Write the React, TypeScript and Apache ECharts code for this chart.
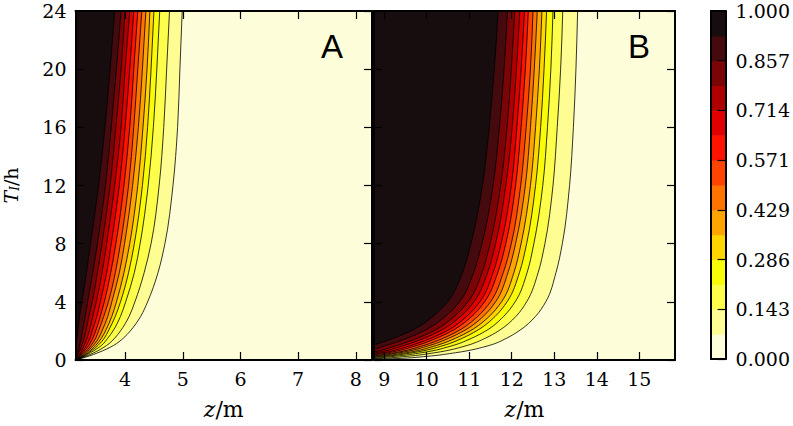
import React, { useEffect, useRef } from "react";
import * as echarts from "echarts";

const SERIF = "DejaVu Serif";
const SANS = "Liberation Sans";

// contour levels (15 boundaries -> 14 bands)
const LEVELS = [0, 0.0714, 0.1429, 0.2143, 0.2857, 0.3571, 0.4286, 0.5, 0.5714, 0.6429, 0.7143, 0.7857, 0.8571, 0.9286, 1];
// band colours, lowest band first
const BAND_COLORS = ["#fdfdd9", "#fdfd94", "#fdfd4b", "#f8fc08", "#ffd500", "#ffa400", "#ff7400", "#ff4300", "#ff1300", "#e00000", "#af0000", "#7b0506", "#440a0d", "#170d0e"];
const CB_TICKS = [0, 0.1429, 0.2857, 0.4286, 0.5714, 0.7143, 0.8571, 1];
const CB_LABELS = ["0.000", "0.143", "0.286", "0.429", "0.571", "0.714", "0.857", "1.000"];

const Y_TICKS = [0, 4, 8, 12, 16, 20, 24];
const A_XTICKS = [4, 5, 6, 7, 8];
const B_XTICKS = [9, 10, 11, 12, 13, 14, 15];

// Panel A: z position (m) of each contour line (level 1/14 ... 13/14) at times T_A (h)
const T_A = [0, 0.25, 0.5, 1, 1.5, 2, 3, 4, 6, 8, 12, 16, 20, 24];
const A_L1 = [3.14, 3.36, 3.53, 3.8, 3.97, 4.09, 4.27, 4.39, 4.57, 4.69, 4.83, 4.91, 4.95, 4.99];
const A_L2 = [3.14, 3.32, 3.46, 3.68, 3.82, 3.92, 4.07, 4.17, 4.33, 4.45, 4.59, 4.67, 4.72, 4.77];
const A_L3 = [3.14, 3.29, 3.4, 3.59, 3.7, 3.79, 3.92, 4.01, 4.16, 4.26, 4.4, 4.49, 4.55, 4.6];
const A_L4 = [3.14, 3.27, 3.37, 3.53, 3.64, 3.71, 3.83, 3.92, 4.06, 4.16, 4.3, 4.39, 4.45, 4.5];
const A_L5 = [3.14, 3.26, 3.35, 3.49, 3.59, 3.66, 3.77, 3.85, 3.98, 4.08, 4.22, 4.31, 4.38, 4.43];
const A_L6 = [3.14, 3.24, 3.32, 3.45, 3.54, 3.6, 3.7, 3.77, 3.9, 3.99, 4.13, 4.23, 4.3, 4.36];
const A_L7 = [3.14, 3.23, 3.3, 3.41, 3.49, 3.54, 3.63, 3.71, 3.83, 3.92, 4.06, 4.15, 4.22, 4.29];
const A_L8 = [3.14, 3.21, 3.27, 3.37, 3.44, 3.49, 3.57, 3.64, 3.75, 3.84, 3.98, 4.08, 4.15, 4.22];
const A_L9 = [3.14, 3.2, 3.25, 3.33, 3.39, 3.43, 3.51, 3.57, 3.68, 3.76, 3.9, 4.0, 4.08, 4.15];
const A_L10 = [3.14, 3.19, 3.23, 3.29, 3.34, 3.38, 3.44, 3.5, 3.6, 3.68, 3.82, 3.93, 4.0, 4.08];
const A_L11 = [3.14, 3.17, 3.2, 3.25, 3.29, 3.32, 3.37, 3.43, 3.52, 3.6, 3.74, 3.84, 3.93, 4.0];
const A_L12 = [3.14, 3.16, 3.18, 3.21, 3.24, 3.26, 3.31, 3.35, 3.44, 3.52, 3.66, 3.76, 3.85, 3.93];
const A_L13 = [3.14, 3.14, 3.14, 3.15, 3.17, 3.18, 3.21, 3.25, 3.33, 3.4, 3.54, 3.65, 3.74, 3.82];
const A_LINES = [A_L1, A_L2, A_L3, A_L4, A_L5, A_L6, A_L7, A_L8, A_L9, A_L10, A_L11, A_L12, A_L13];

// Panel B
const T_B = [0, 0.1, 0.25, 0.5, 1, 1.5, 2, 3, 4, 6, 8, 12, 16, 20, 24];
const B_L1 = [8.3, 9.3, 10.0, 10.68, 11.47, 11.88, 12.17, 12.56, 12.8, 13.04, 13.19, 13.36, 13.45, 13.51, 13.55];
const B_L2 = [7.96, 8.86, 9.53, 10.19, 10.95, 11.38, 11.69, 12.1, 12.35, 12.62, 12.78, 12.97, 13.07, 13.15, 13.2];
const B_L3 = [7.74, 8.59, 9.23, 9.88, 10.62, 11.06, 11.39, 11.81, 12.08, 12.36, 12.52, 12.73, 12.84, 12.92, 12.97];
const B_L4 = [7.6, 8.4, 9.03, 9.67, 10.4, 10.84, 11.17, 11.61, 11.89, 12.18, 12.35, 12.56, 12.68, 12.76, 12.82];
const B_L5 = [7.49, 8.27, 8.88, 9.52, 10.23, 10.68, 11.02, 11.47, 11.76, 12.05, 12.22, 12.44, 12.56, 12.65, 12.71];
const B_L6 = [7.38, 8.13, 8.73, 9.36, 10.07, 10.52, 10.87, 11.33, 11.62, 11.91, 12.09, 12.32, 12.44, 12.53, 12.6];
const B_L7 = [7.29, 8.01, 8.6, 9.24, 9.93, 10.39, 10.74, 11.2, 11.5, 11.8, 11.99, 12.21, 12.34, 12.44, 12.5];
const B_L8 = [7.18, 7.87, 8.45, 9.08, 9.77, 10.23, 10.59, 11.06, 11.36, 11.67, 11.86, 12.09, 12.22, 12.32, 12.39];
const B_L9 = [7.09, 7.76, 8.33, 8.95, 9.63, 10.1, 10.47, 10.94, 11.25, 11.56, 11.75, 11.99, 12.12, 12.22, 12.3];
const B_L10 = [6.99, 7.62, 8.18, 8.8, 9.46, 9.94, 10.31, 10.8, 11.11, 11.43, 11.62, 11.86, 12.01, 12.11, 12.19];
const B_L11 = [6.88, 7.48, 8.03, 8.64, 9.3, 9.78, 10.16, 10.65, 10.97, 11.3, 11.49, 11.74, 11.89, 11.99, 12.07];
const B_L12 = [6.72, 7.28, 7.8, 8.41, 9.05, 9.54, 9.93, 10.44, 10.77, 11.1, 11.3, 11.56, 11.71, 11.82, 11.9];
const B_L13 = [6.5, 7.0, 7.5, 8.1, 8.72, 9.22, 9.63, 10.15, 10.49, 10.84, 11.04, 11.31, 11.47, 11.59, 11.68];
const B_LINES = [B_L1, B_L2, B_L3, B_L4, B_L5, B_L6, B_L7, B_L8, B_L9, B_L10, B_L11, B_L12, B_L13];

function monotoneSlopes(xs: number[], ys: number[]): number[] {
  const n = xs.length;
  const s: number[] = [];
  for (let i = 0; i < n - 1; i++) s.push((ys[i + 1] - ys[i]) / (xs[i + 1] - xs[i]));
  const m: number[] = new Array(n).fill(0);
  for (let i = 1; i < n - 1; i++) {
    const h0 = xs[i] - xs[i - 1];
    const h1 = xs[i + 1] - xs[i];
    const p = (s[i - 1] * h1 + s[i] * h0) / (h0 + h1);
    m[i] = (Math.sign(s[i - 1]) + Math.sign(s[i])) * Math.min(Math.abs(s[i - 1]), Math.abs(s[i]), 0.5 * Math.abs(p)) || 0;
  }
  m[0] = (3 * s[0] - m[1]) / 2;
  m[n - 1] = (3 * s[n - 2] - m[n - 2]) / 2;
  return m;
}

function contourSeries(T: number[], lines: number[][], idx: number) {
  return {
    type: "custom",
    xAxisIndex: idx,
    yAxisIndex: idx,
    clip: true,
    z: 2,
    silent: true,
    data: lines.map((_, i) => [i]),
    renderItem: (params: any, api: any) => {
      const k = params.dataIndex;
      const zs = lines[k];
      const m = monotoneSlopes(T, zs);
      const cs = params.coordSys;
      const P = (z: number, t: number) => api.coord([z, t]);
      const p0 = P(zs[0], T[0]);
      let d = `M${p0[0]} ${p0[1]}`;
      for (let i = 0; i < T.length - 1; i++) {
        const h = T[i + 1] - T[i];
        const c1 = P(zs[i] + (m[i] * h) / 3, T[i] + h / 3);
        const c2 = P(zs[i + 1] - (m[i + 1] * h) / 3, T[i + 1] - h / 3);
        const e = P(zs[i + 1], T[i + 1]);
        d += ` C${c1[0]} ${c1[1]} ${c2[0]} ${c2[1]} ${e[0]} ${e[1]}`;
      }
      const pe = P(zs[zs.length - 1], T[T.length - 1]);
      const left = cs.x - 6;
      const top = cs.y - 6;
      const bottom = cs.y + cs.height + 6;
      const fillD = `${d} L${pe[0]} ${top} L${left} ${top} L${left} ${bottom} L${p0[0]} ${bottom} Z`;
      return {
        type: "group",
        clipPath: { type: "rect", shape: { x: cs.x, y: cs.y, width: cs.width, height: cs.height } },
        children: [
          { type: "path", shape: { pathData: fillD }, style: { fill: BAND_COLORS[k + 1], stroke: null }, z2: k + 1 },
          { type: "path", shape: { pathData: d }, style: { fill: null, stroke: "#000", lineWidth: 0.8 }, z2: 60 + k },
        ],
      };
    },
  };
}

const LINE = { show: true, onZero: false, lineStyle: { color: "#000", width: 2 } };
const tickStyle = (vals: number[] | null) => ({
  show: true,
  inside: true,
  length: 8,
  ...(vals ? { customValues: vals } : {}),
  lineStyle: { color: "#000", width: 1.2 },
});
const labelStyle = { color: "#000", fontFamily: SERIF, fontSize: 19 };

function xAxes(grid: number, min: number, max: number, ticks: number[], withName: boolean) {
  return [
    {
      type: "value", gridIndex: grid, min, max, position: "bottom", z: 10,
      axisLine: LINE, axisTick: tickStyle(ticks),
      axisLabel: { show: true, customValues: ticks, margin: 9, ...labelStyle },
      splitLine: { show: false },
      ...(withName
        ? {
            name: "{i|z}{n|/m}",
            nameLocation: "middle",
            nameGap: 38,
            nameTextStyle: {
              rich: {
                i: { fontFamily: SERIF, fontStyle: "italic", fontSize: 22, color: "#000" },
                n: { fontFamily: SERIF, fontSize: 22, color: "#000" },
              },
            },
          }
        : {}),
    },
    {
      type: "value", gridIndex: grid, min, max, position: "top", z: 10,
      axisLine: LINE, axisTick: tickStyle(ticks), axisLabel: { show: false }, splitLine: { show: false },
    },
  ];
}

function yAxes(grid: number, labels: boolean) {
  return [
    {
      type: "value", gridIndex: grid, min: 0, max: 24, interval: 4, position: "left", z: 10,
      axisLine: LINE, axisTick: tickStyle(Y_TICKS),
      axisLabel: { show: labels, customValues: Y_TICKS, margin: 9, ...labelStyle },
      splitLine: { show: false },
      ...(labels
        ? {
            name: "{i|T}{s|I}{n|/h}",
            nameLocation: "middle",
            nameRotate: 90,
            nameGap: 55,
            nameTextStyle: {
              rich: {
                i: { fontFamily: SERIF, fontStyle: "italic", fontSize: 19, color: "#000" },
                s: { fontFamily: SERIF, fontStyle: "italic", fontSize: 12, color: "#000", verticalAlign: "bottom", padding: [8, 0, 0, 0] },
                n: { fontFamily: SERIF, fontSize: 19, color: "#000" },
              },
            },
          }
        : {}),
    },
    {
      type: "value", gridIndex: grid, min: 0, max: 24, interval: 4, position: "right", z: 10,
      axisLine: LINE, axisTick: tickStyle(Y_TICKS), axisLabel: { show: false }, splitLine: { show: false },
    },
  ];
}

export default function App() {
  const ref = useRef<HTMLDivElement>(null);
  useEffect(() => {
    if (!ref.current) return;
    const chart = echarts.init(ref.current, undefined, { renderer: "svg" });
    const option: any = {
      animation: false,
      backgroundColor: "#fff",
      grid: [
        { left: 73, top: 11, width: 299, height: 349, show: true, backgroundColor: BAND_COLORS[0], borderWidth: 0 },
        { left: 374, top: 11, width: 301, height: 349, show: true, backgroundColor: BAND_COLORS[0], borderWidth: 0 },
        { left: 711, top: 11, width: 19, height: 348, show: false },
      ],
      xAxis: [
        ...xAxes(0, 3.14, 8.28, A_XTICKS, true),
        ...xAxes(1, 8.76, 15.84, B_XTICKS, true),
        {
          type: "value", gridIndex: 2, min: 0, max: 1, position: "bottom", z: 10,
          axisLine: LINE, axisTick: { show: false }, axisLabel: { show: false }, splitLine: { show: false },
        },
        {
          type: "value", gridIndex: 2, min: 0, max: 1, position: "top", z: 10,
          axisLine: LINE, axisTick: { show: false }, axisLabel: { show: false }, splitLine: { show: false },
        },
      ],
      yAxis: [
        ...yAxes(0, true),
        ...yAxes(1, false),
        {
          type: "value", gridIndex: 2, min: 0, max: 1, position: "left", z: 10,
          axisLine: LINE, axisTick: { show: false }, axisLabel: { show: false }, splitLine: { show: false },
        },
        {
          type: "value", gridIndex: 2, min: 0, max: 1, position: "right", z: 10,
          axisLine: LINE, axisTick: tickStyle(CB_TICKS),
          axisLabel: {
            show: true, customValues: CB_TICKS, margin: 10, ...labelStyle,
            formatter: (v: number) => {
              const i = CB_TICKS.indexOf(v);
              return i >= 0 ? CB_LABELS[i] : v.toFixed(3);
            },
          },
          splitLine: { show: false },
        },
      ],
      series: [
        contourSeries(T_A, A_LINES, 0),
        contourSeries(T_B, B_LINES, 2),
        {
          type: "custom",
          xAxisIndex: 4,
          yAxisIndex: 4,
          silent: true,
          z: 2,
          data: BAND_COLORS.map((_, i) => [i]),
          renderItem: (params: any, api: any) => {
            const i = params.dataIndex;
            const a = api.coord([0, LEVELS[i + 1]]);
            const b = api.coord([1, LEVELS[i]]);
            return {
              type: "rect",
              shape: { x: a[0], y: a[1], width: b[0] - a[0], height: b[1] - a[1] + 0.5 },
              style: { fill: BAND_COLORS[i] },
            };
          },
        },
      ],
      graphic: [
        { type: "text", x: 332, y: 46, z: 100, style: { text: "A", fontFamily: SANS, fontSize: 33, fill: "#000", align: "center", verticalAlign: "middle" } },
        { type: "text", x: 639, y: 46, z: 100, style: { text: "B", fontFamily: SANS, fontSize: 33, fill: "#000", align: "center", verticalAlign: "middle" } },
      ],
    };
    chart.setOption(option);
    return () => chart.dispose();
  }, []);
  return <div ref={ref} style={{ position: "absolute", left: 0, top: 0, width: 793, height: 426, background: "#fff" }} />;
}
